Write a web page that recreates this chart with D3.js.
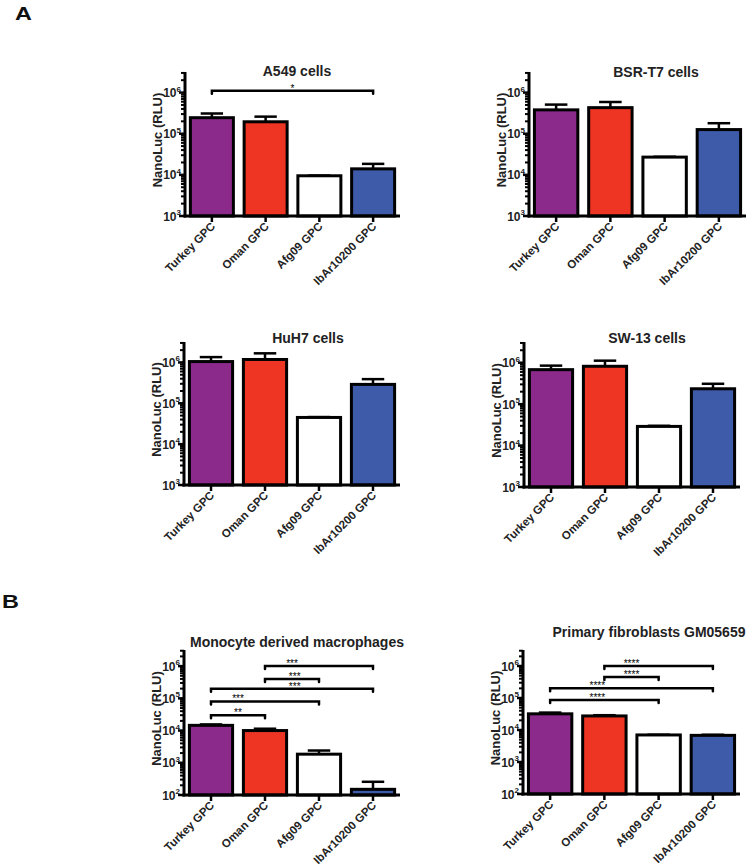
<!DOCTYPE html>
<html><head><meta charset="utf-8">
<script src="https://cdn.jsdelivr.net/npm/d3@7"></script>
<style>body{margin:0;background:#fff}svg{display:block;font-family:"Liberation Sans",Arial,sans-serif}</style>
</head><body><svg id="c" width="747" height="867"></svg>
<script>
const categories = ["Turkey GPC","Oman GPC","Afg09 GPC","IbAr10200 GPC"];
const barColors = ["#8C2A8B","#EE3524","#FFFFFF","#3E5BA9"];

const a549Mean  = [2.45e5, 1.95e5, 9.5e3, 1.4e4];
const a549Upper = [3.1e5, 2.6e5, 9.6e3, 1.85e4];
const bsrMean   = [3.8e5, 4.3e5, 2.7e4, 1.26e5];
const bsrUpper  = [5.1e5, 5.9e5, 2.75e4, 1.8e5];
const huh7Mean  = [1.05e6, 1.18e6, 4.5e4, 2.9e5];
const huh7Upper = [1.35e6, 1.67e6, 4.6e4, 3.9e5];
const sw13Mean  = [6.8e5, 8.2e5, 2.9e4, 2.35e5];
const sw13Upper = [8.5e5, 1.12e6, 3.0e4, 3.1e5];
const mdmMean   = [1.45e4, 1.0e4, 1.85e3, 150];
const mdmUpper  = [1.55e4, 1.14e4, 2.4e3, 257];
const fibMean   = [3.2e4, 2.75e4, 7.0e3, 6.8e3];
const fibUpper  = [3.5e4, 2.9e4, 7.1e3, 7.1e3];

const expA = [3,4,5,6];
const expB = [2,3,4,5,6];

// significance: [fromIndex, toIndex, yValue, label, labelAtIndex]
const a549Sig = [[0,3,1.1e6,"*",1.5]];
const mdmSig = [[1,3,1e6,"***",1.5],[1,2,4e5,"***",1.55],[0,3,2e5,"***",1.55],[0,2,8e4,"***",0.5],[0,1,3e4,"**",0.5]];
const fibSig = [[1,3,1e6,"****",1.5],[1,2,4.5e5,"****",1.5],[0,3,2e5,"****",0.87],[0,2,8.7e4,"****",0.87]];

const panels = [
  {title:"A549 cells", mean:a549Mean, upper:a549Upper, exps:expA, sig:a549Sig, L:185, R:400, T:72, B:216, tx:297, ty:76},
  {title:"BSR-T7 cells", mean:bsrMean, upper:bsrUpper, exps:expA, sig:[], L:529, R:746, T:72, B:216, tx:656, ty:77},
  {title:"HuH7 cells", mean:huh7Mean, upper:huh7Upper, exps:expA, sig:[], L:184, R:400, T:342, B:485, tx:308, ty:343},
  {title:"SW-13 cells", mean:sw13Mean, upper:sw13Upper, exps:expA, sig:[], L:524, R:740, T:342, B:487, tx:647, ty:343},
  {title:"Monocyte derived macrophages", mean:mdmMean, upper:mdmUpper, exps:expB, sig:mdmSig, L:184, R:400, T:650, B:795, tx:297, ty:647},
  {title:"Primary fibroblasts GM05659", mean:fibMean, upper:fibUpper, exps:expB, sig:fibSig, L:523, R:740, T:650, B:794, tx:649, ty:637}
];

const svg = d3.select("#c");
svg.append("text").attr("transform","translate(15,20) scale(1.3,1)").attr("font-size",18).attr("font-weight","bold").attr("fill","#111").text("A");
svg.append("text").attr("transform","translate(2,608) scale(1.3,1)").attr("font-size",18).attr("font-weight","bold").attr("fill","#111").text("B");

panels.forEach(p => {
  const g = svg.append("g");
  const minE = p.exps[0], maxE = p.exps[p.exps.length-1];
  const y = d3.scaleLog().domain([Math.pow(10,minE), Math.pow(10,maxE+0.5)]).range([p.B, p.T]);
  const x = d3.scaleBand().domain(categories).range([p.L, p.R]).paddingInner(0.2).paddingOuter(0.1);
  const cx = i => x(categories[i]) + x.bandwidth()/2;

  g.append("text").attr("x",p.tx).attr("y",p.ty).attr("text-anchor","middle")
    .attr("font-size",14).attr("font-weight","bold").attr("fill","#222").text(p.title);

  categories.forEach((c,i) => {
    const top = y(p.mean[i]);
    const up = y(p.upper[i]);
    const hw = x.bandwidth()*0.26;
    g.append("line").attr("x1",cx(i)).attr("x2",cx(i)).attr("y1",top).attr("y2",up).attr("stroke","#000").attr("stroke-width",2.5);
    g.append("line").attr("x1",cx(i)-hw).attr("x2",cx(i)+hw).attr("y1",up).attr("y2",up).attr("stroke","#000").attr("stroke-width",2.5);
    g.append("rect").attr("x",x(c)).attr("y",top).attr("width",x.bandwidth()).attr("height",p.B-top)
      .attr("fill",barColors[i]).attr("stroke","#000").attr("stroke-width",3);
  });

  const ticks = [];
  for (let e=minE; e<=maxE; e++) {
    for (let m=1; m<=9; m++) {
      const v = m*Math.pow(10,e);
      if (v <= Math.pow(10,maxE+0.5)) ticks.push({v, major:m===1});
    }
  }
  ticks.forEach(t => {
    g.append("line").attr("x1",p.L - (t.major?6:4)).attr("x2",p.L).attr("y1",y(t.v)).attr("y2",y(t.v))
      .attr("stroke","#000").attr("stroke-width",t.major?2.5:2);
  });
  g.append("line").attr("x1",p.L).attr("x2",p.L).attr("y1",p.T).attr("y2",p.B+1.5).attr("stroke","#000").attr("stroke-width",3);
  p.exps.forEach(e => {
    const t = g.append("text").attr("x",p.L-4).attr("y",y(Math.pow(10,e))+4.5).attr("text-anchor","end")
      .attr("font-size",12).attr("font-weight","bold").attr("fill","#222");
    t.append("tspan").text("10");
    t.append("tspan").attr("dy",-5.5).attr("font-size",8).text(e);
  });
  g.append("text").attr("transform",`translate(${p.L-23},${(p.T+p.B)/2-4}) rotate(-90)`)
    .attr("text-anchor","middle").attr("font-size",13).attr("font-weight","bold").attr("fill","#222").text("NanoLuc (RLU)");

  g.append("line").attr("x1",p.L-1.5).attr("x2",p.R).attr("y1",p.B).attr("y2",p.B).attr("stroke","#000").attr("stroke-width",3);
  categories.forEach((c,i) => {
    g.append("line").attr("x1",cx(i)).attr("x2",cx(i)).attr("y1",p.B).attr("y2",p.B+6).attr("stroke","#000").attr("stroke-width",2.5);
    g.append("text").attr("transform",`translate(${cx(i)+4},${p.B+11}) rotate(-45)`).attr("text-anchor","end")
      .attr("font-size",11.5).attr("font-weight","bold").attr("fill","#222").text(c);
  });

  p.sig.forEach(s => {
    const [a,b,v,lab,at] = s;
    const yy = y(v);
    g.append("path").attr("d",`M${cx(a)},${yy+3}V${yy}H${cx(b)}V${yy+3}`).attr("fill","none")
      .attr("stroke","#000").attr("stroke-width",2.5).attr("stroke-linecap","round");
    const lx = cx(0) + at*(cx(1)-cx(0));
    g.append("text").attr("x",lx).attr("y",yy+1).attr("text-anchor","middle").attr("font-size",10).attr("fill","#000").text(lab);
  });
});
</script></body></html>
